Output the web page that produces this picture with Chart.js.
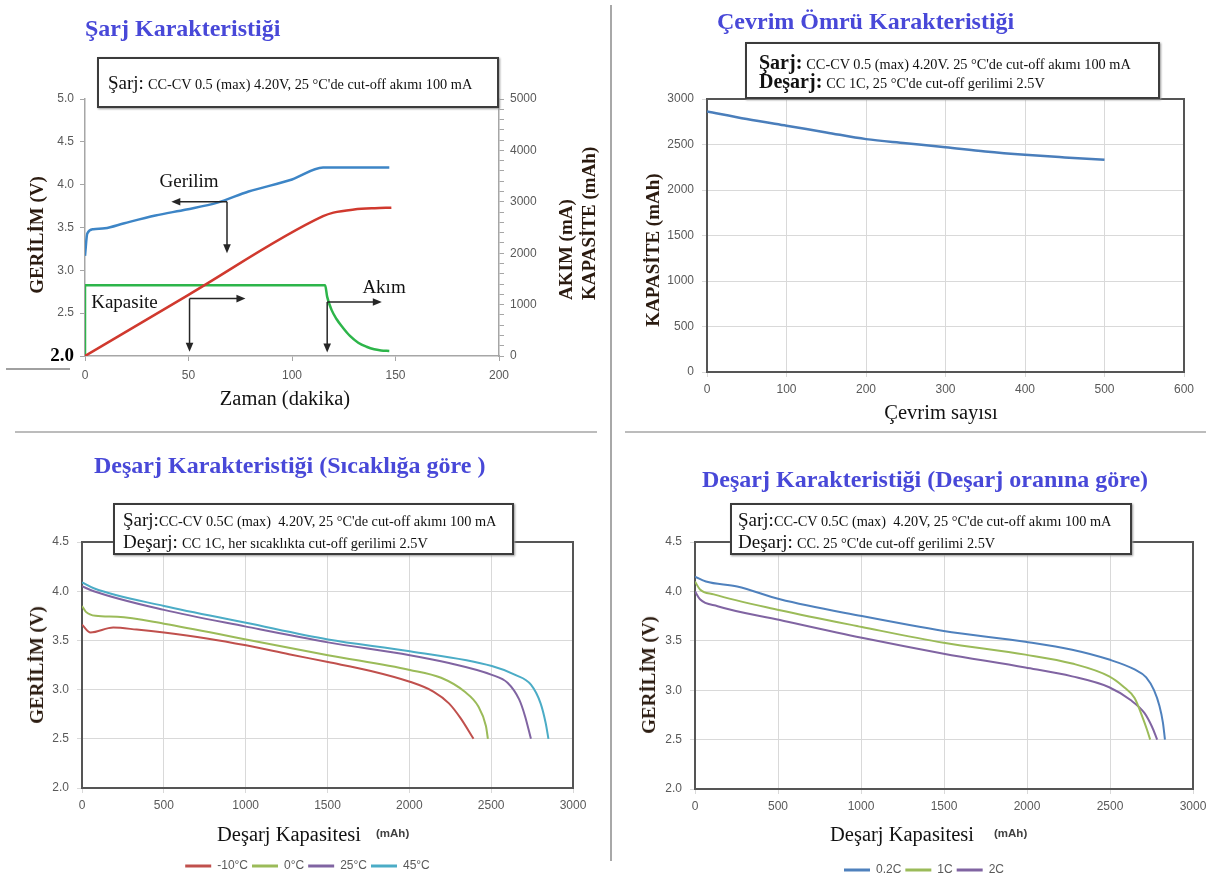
<!DOCTYPE html>
<html>
<head>
<meta charset="utf-8">
<script src="https://cdn.jsdelivr.net/npm/chart.js@4.4.1/dist/chart.umd.min.js"></script>
<style>
html, body { margin: 0; padding: 0; background: #fff; overflow: hidden; }
#page { position: relative; width: 1224px; height: 877px; overflow: hidden; font-family: "Liberation Serif", serif; }
canvas { position: absolute; }
.ttl { position: absolute; font: bold 24px/28px "Liberation Serif", serif; color: #4848d8; white-space: nowrap; }
.note { position: absolute; background: #fff; border: 2px solid #3c3c3c; box-shadow: 1px 1px 2px #999; box-sizing: border-box; }
.note div { position: absolute; white-space: nowrap; color: #111; line-height: 20px; }
.big { font-size: 19px; }
.bigb { font-size: 20px; font-weight: bold; }
.sm { font-size: 14.3px; }
.yt { position: absolute; font: bold 19px/22px "Liberation Serif", serif; color: #2b1b10; white-space: nowrap;
      transform: translate(-50%, -50%) rotate(-90deg); }
.rt { position: absolute; font: bold 19px/23px "Liberation Serif", serif; color: #2b1b10; white-space: nowrap;
      transform: rotate(-90deg); transform-origin: 0 0; }
.xt { position: absolute; font: 20.5px/22px "Liberation Serif", serif; color: #111; white-space: nowrap; transform: translate(-50%, -50%); }
.xl { position: absolute; font: 20.5px/22px "Liberation Serif", serif; color: #111; white-space: nowrap; }
.unit { position: absolute; font: bold 11.5px/14px "Liberation Sans", sans-serif; color: #404040; }
.sep { position: absolute; background: #bcbcbc; }
</style>
</head>
<body>
<div id="page">
  <canvas id="c1" width="611" height="430" style="left:0;top:0"></canvas>
  <canvas id="c2" width="612" height="430" style="left:612px;top:0"></canvas>
  <canvas id="c3" width="611" height="447" style="left:0;top:440px"></canvas>
  <canvas id="c4" width="612" height="447" style="left:612px;top:440px"></canvas>

  <div class="sep" style="left:610px;top:5px;width:1.5px;height:856px;background:#a8a8a8"></div>
  <div class="sep" style="left:15px;top:431px;width:582px;height:2px"></div>
  <div class="sep" style="left:625px;top:431px;width:581px;height:2px"></div>
  <div class="sep" style="left:6px;top:368px;width:64px;height:2px;background:#a0a0a0"></div>

  <div class="ttl" style="left:85px;top:14px">Şarj Karakteristiği</div>
  <div class="ttl" style="left:717px;top:7px">Çevrim Ömrü Karakteristiği</div>
  <div class="ttl" style="left:94px;top:451px">Deşarj Karakteristiği (Sıcaklığa göre )</div>
  <div class="ttl" style="left:702px;top:465px">Deşarj Karakteristiği (Deşarj oranına göre)</div>

  <div class="note" style="left:97px;top:57px;width:402px;height:51px">
    <div style="left:9px;top:14px"><span class="big">Şarj:</span> <span class="sm">CC-CV 0.5 (max) 4.20V, 25 °C'de cut-off akımı 100 mA</span></div>
  </div>
  <div class="note" style="left:745px;top:42px;width:415px;height:57px">
    <div style="left:12px;top:8px"><span class="bigb">Şarj:</span> <span class="sm">CC-CV 0.5 (max) 4.20V. 25 °C'de cut-off akımı 100 mA</span></div>
    <div style="left:12px;top:27px"><span class="bigb">Deşarj:</span> <span class="sm">CC 1C, 25 °C'de cut-off gerilimi 2.5V</span></div>
  </div>
  <div class="note" style="left:113px;top:503px;width:401px;height:52px">
    <div style="left:8px;top:5px"><span class="big">Şarj:</span><span class="sm">CC-CV 0.5C (max)&nbsp; 4.20V, 25 °C'de cut-off akımı 100 mA</span></div>
    <div style="left:8px;top:27px"><span class="big">Deşarj:</span> <span class="sm">CC 1C, her sıcaklıkta cut-off gerilimi 2.5V</span></div>
  </div>
  <div class="note" style="left:730px;top:503px;width:402px;height:52px">
    <div style="left:6px;top:5px"><span class="big">Şarj:</span><span class="sm">CC-CV 0.5C (max)&nbsp; 4.20V, 25 °C'de cut-off akımı 100 mA</span></div>
    <div style="left:6px;top:27px"><span class="big">Deşarj:</span> <span class="sm">CC. 25 °C'de cut-off gerilimi 2.5V</span></div>
  </div>

  <div class="yt" style="left:37px;top:235px">GERİLİM (V)</div>
  <div class="rt" style="left:554px;top:300px">AKIM (mA)<br>KAPASİTE (mAh)</div>
  <div class="yt" style="left:653px;top:250px">KAPASİTE (mAh)</div>
  <div class="yt" style="left:37px;top:665px">GERİLİM (V)</div>
  <div class="yt" style="left:649px;top:675px">GERİLİM (V)</div>

  <div class="xt" style="left:285px;top:398px">Zaman (dakika)</div>
  <div class="xt" style="left:941px;top:412px">Çevrim sayısı</div>
  <div class="xl" style="left:217px;top:823px">Deşarj Kapasitesi</div>
  <div class="unit" style="left:376px;top:826px">(mAh)</div>
  <div class="xl" style="left:830px;top:823px">Deşarj Kapasitesi</div>
  <div class="unit" style="left:994px;top:826px">(mAh)</div>
</div>

<script>
// Şarj karakteristiği: zaman (dakika)
const chgVoltT = [0, 1.1, 4, 9.6, 19, 34, 49, 64, 79, 100, 115, 147];
const chgVolt  = [3.17, 3.43, 3.48, 3.49, 3.55, 3.64, 3.71, 3.79, 3.92, 4.06, 4.2, 4.2];
const chgCapT  = [0, 50, 115, 120, 130, 140, 148];
const chgCap   = [0, 1190, 2720, 2790, 2850, 2875, 2885];
const chgCurT  = [0, 0, 116, 117, 119, 121.5, 124.6, 128, 132, 136, 139.7, 143, 147];
const chgCur   = [0, 1375, 1375, 1150, 907, 720, 550, 390, 259, 180, 130, 108, 97];

// Çevrim ömrü
const cycleN   = [0, 50, 100, 150, 200, 250, 300, 350, 400, 450, 500];
const cycleCap = [2864, 2780, 2706, 2633, 2559, 2515, 2471, 2424, 2387, 2358, 2332];

// Deşarj - sıcaklığa göre
const tempLabels = ['-10°C', '0°C', '25°C', '45°C'];
const tempColors = ['#C0504D', '#9BBB59', '#8064A2', '#4BACC6'];
const capM10 = [0, 52, 191, 334, 501, 763, 1002, 1264, 1503, 1765, 2003, 2147, 2242, 2313, 2392];
const vM10   = [3.66, 3.58, 3.63, 3.61, 3.58, 3.52, 3.45, 3.36, 3.28, 3.19, 3.08, 2.98, 2.86, 2.71, 2.5];
const cap0   = [0, 24, 83, 215, 501, 1002, 1503, 2003, 2194, 2337, 2421, 2468, 2480];
const v0     = [3.85, 3.79, 3.75, 3.74, 3.67, 3.51, 3.35, 3.20, 3.12, 2.98, 2.83, 2.63, 2.5];
const cap25  = [0, 72, 501, 1002, 1503, 2003, 2242, 2504, 2600, 2671, 2707, 2743];
const v25    = [4.05, 4.0, 3.81, 3.64, 3.48, 3.35, 3.27, 3.15, 3.07, 2.90, 2.73, 2.5];
const cap45  = [0, 72, 501, 1002, 1503, 2003, 2504, 2647, 2743, 2802, 2833, 2850];
const v45    = [4.09, 4.03, 3.85, 3.68, 3.51, 3.39, 3.24, 3.15, 3.05, 2.86, 2.66, 2.5];

// Deşarj - deşarj oranına göre
const rateLabels = ['0.2C', '1C', '2C'];
const rateColors = ['#4F81BD', '#9BBB59', '#8064A2'];
const cap02 = [0, 66, 254, 512, 1005, 1498, 1990, 2272, 2495, 2648, 2718, 2765, 2798, 2819, 2831];
const v02   = [4.15, 4.10, 4.05, 3.92, 3.75, 3.60, 3.49, 3.41, 3.31, 3.21, 3.13, 3.0, 2.84, 2.67, 2.5];
const cap1C = [0, 30, 113, 512, 1005, 1498, 1990, 2272, 2495, 2578, 2648, 2695, 2723, 2742];
const v1C   = [4.10, 4.02, 3.97, 3.81, 3.64, 3.48, 3.36, 3.27, 3.14, 3.04, 2.92, 2.73, 2.60, 2.5];
const cap2C = [0, 30, 136, 512, 1005, 1498, 1990, 2272, 2495, 2624, 2707, 2753, 2784];
const v2C   = [4.0, 3.92, 3.85, 3.71, 3.53, 3.37, 3.23, 3.14, 3.03, 2.90, 2.77, 2.63, 2.5];

// arrows and labels on the charge chart, in data units (x: dakika, y: V)
const chargeArrows = [
  [68.6, 3.8, 41.7, 3.8], [68.6, 3.8, 68.6, 3.2],
  [50.5, 2.67, 77.5, 2.67], [50.5, 2.67, 50.5, 2.05],
  [117, 2.63, 143.4, 2.63], [117, 2.63, 117, 2.04]
];
const chargeNotes = [['Gerilim', 36, 4.03], ['Kapasite', 3, 2.62], ['Akım', 134, 2.79]];

const tickColor = '#595959';
const tickFont = {family: 'Liberation Sans', size: 12};
const gridColor = '#d9d9d9';

function pts(xs, ys) { return xs.map((x, i) => ({x: x, y: ys[i]})); }
function fixW(w) { return s => { s.width = w; }; }
function fixH(h) { return s => { s.height = h; }; }

const frame = {
  id: 'frame',
  beforeDatasetsDraw(chart, args, opts) {
    if (!opts.color) return;
    const a = chart.chartArea, ctx = chart.ctx;
    ctx.save();
    ctx.strokeStyle = opts.color;
    ctx.lineWidth = opts.width;
    ctx.strokeRect(a.left, a.top, a.right - a.left, a.bottom - a.top);
    ctx.restore();
  }
};

function drawArrow(ctx, x1, y1, x2, y2) {
  const a = Math.atan2(y2 - y1, x2 - x1), h = 9, w = 3.8;
  ctx.beginPath();
  ctx.moveTo(x1, y1);
  ctx.lineTo(x2 - Math.cos(a) * h * 0.7, y2 - Math.sin(a) * h * 0.7);
  ctx.stroke();
  ctx.beginPath();
  ctx.moveTo(x2, y2);
  ctx.lineTo(x2 - h * Math.cos(a) + w * Math.sin(a), y2 - h * Math.sin(a) - w * Math.cos(a));
  ctx.lineTo(x2 - h * Math.cos(a) - w * Math.sin(a), y2 - h * Math.sin(a) + w * Math.cos(a));
  ctx.closePath();
  ctx.fill();
}

const arrows = {
  id: 'arrows',
  afterDatasetsDraw(chart) {
    const ctx = chart.ctx, sx = chart.scales.x, sy = chart.scales.y;
    ctx.save();
    ctx.strokeStyle = '#262626';
    ctx.fillStyle = '#262626';
    ctx.lineWidth = 1.5;
    chargeArrows.forEach(r => drawArrow(ctx, sx.getPixelForValue(r[0]), sy.getPixelForValue(r[1]),
                                            sx.getPixelForValue(r[2]), sy.getPixelForValue(r[3])));
    ctx.fillStyle = '#111';
    ctx.font = '19px "Liberation Serif"';
    ctx.textBaseline = 'middle';
    chargeNotes.forEach(n => ctx.fillText(n[0], sx.getPixelForValue(n[1]), sy.getPixelForValue(n[2])));
    ctx.restore();
  }
};

function line(label, xs, ys, color, axis, width) {
  return {
    label: label, data: pts(xs, ys), yAxisID: axis || 'y',
    borderColor: color, backgroundColor: color, borderWidth: width || 2,
    pointRadius: 0, cubicInterpolationMode: 'monotone', fill: false
  };
}

// 1) Şarj karakteristiği
new Chart(document.getElementById('c1'), {
  type: 'line',
  data: {
    datasets: [
      line('Gerilim', chgVoltT, chgVolt, '#3D85C6', 'y', 2.5),
      line('Kapasite', chgCapT, chgCap, '#D0392E', 'y2', 2.5),
      line('Akım', chgCurT, chgCur, '#2DB54A', 'y2', 2.5)
    ]
  },
  options: {
    responsive: false,
    animation: false,
    layout: {padding: {left: 45, top: 99, right: 62, bottom: 44}},
    plugins: {legend: {display: false}, tooltip: {enabled: false}},
    scales: {
      x: {
        type: 'linear', min: 0, max: 200,
        ticks: {stepSize: 50, color: tickColor, font: tickFont, padding: 7, maxRotation: 0},
        grid: {drawOnChartArea: false, tickLength: 5, color: '#a6a6a6'},
        border: {color: '#a6a6a6', width: 1.5},
        afterFit: fixH(30)
      },
      y: {
        position: 'left', min: 2, max: 5,
        ticks: {
          stepSize: 0.5, padding: 6,
          callback: v => v.toFixed(1),
          color: c => (c.tick && c.tick.value === 2) ? '#000' : tickColor,
          font: c => (c.tick && c.tick.value === 2) ? {family: 'Liberation Serif', size: 19, weight: 'bold'} : tickFont
        },
        grid: {drawOnChartArea: false, tickLength: 5, color: '#a6a6a6'},
        border: {color: '#a6a6a6', width: 1.5},
        afterFit: fixW(40)
      },
      y2: {
        position: 'right', min: 0, max: 5000,
        ticks: {stepSize: 200, autoSkip: false, padding: 6, color: tickColor, font: tickFont,
                callback: v => v % 1000 === 0 ? String(v) : ''},
        grid: {drawOnChartArea: false, tickLength: 5, color: '#a6a6a6'},
        border: {color: '#a6a6a6', width: 1.5},
        afterFit: fixW(50)
      }
    }
  },
  plugins: [arrows]
});

function boxedScales(xMax, xStep, yMin, yMax, yStep, fmt, xH) {
  return {
    x: {
      type: 'linear', min: 0, max: xMax,
      ticks: {stepSize: xStep, color: tickColor, font: tickFont, padding: 5, maxRotation: 0, callback: v => String(v)},
      grid: {color: gridColor, tickLength: 5},
      border: {display: false},
      afterFit: fixH(xH)
    },
    y: {
      min: yMin, max: yMax,
      ticks: {stepSize: yStep, color: tickColor, font: tickFont, padding: 8, callback: fmt},
      grid: {color: gridColor, tickLength: 5},
      border: {display: false},
      afterFit: fixW(40)
    }
  };
}

// 2) Çevrim ömrü
new Chart(document.getElementById('c2'), {
  type: 'line',
  data: {datasets: [line('Kapasite', cycleN, cycleCap, '#4A7EBB', 'y', 2.5)]},
  options: {
    responsive: false,
    animation: false,
    layout: {padding: {left: 55, top: 99, right: 40, bottom: 28}},
    plugins: {legend: {display: false}, tooltip: {enabled: false}, frame: {color: '#555', width: 2}},
    scales: boxedScales(600, 100, 0, 3000, 500, v => String(v), 30)
  },
  plugins: [frame]
});

const legendOpts = {
  position: 'bottom',
  labels: {
    boxWidth: 26, boxHeight: 3, padding: 4, color: tickColor, font: tickFont,
    generateLabels: c => Chart.defaults.plugins.legend.labels.generateLabels(c).map(l => Object.assign(l, {lineWidth: 0}))
  }
};

// 3) Deşarj - sıcaklık
new Chart(document.getElementById('c3'), {
  type: 'line',
  data: {
    datasets: [
      line(tempLabels[0], capM10, vM10, tempColors[0]),
      line(tempLabels[1], cap0, v0, tempColors[1]),
      line(tempLabels[2], cap25, v25, tempColors[2]),
      line(tempLabels[3], cap45, v45, tempColors[3])
    ]
  },
  options: {
    responsive: false,
    animation: false,
    layout: {padding: {left: 42, top: 102, right: 38, bottom: 5}},
    plugins: {legend: legendOpts, tooltip: {enabled: false}, frame: {color: '#555', width: 2}},
    scales: boxedScales(3000, 500, 2, 4.5, 0.5, v => v.toFixed(1), 68)
  },
  plugins: [frame]
});

// 4) Deşarj - deşarj oranı
new Chart(document.getElementById('c4'), {
  type: 'line',
  data: {
    datasets: [
      line(rateLabels[0], cap02, v02, rateColors[0]),
      line(rateLabels[1], cap1C, v1C, rateColors[1]),
      line(rateLabels[2], cap2C, v2C, rateColors[2])
    ]
  },
  options: {
    responsive: false,
    animation: false,
    layout: {padding: {left: 43, top: 102, right: 31, bottom: 1}},
    plugins: {legend: legendOpts, tooltip: {enabled: false}, frame: {color: '#555', width: 2}},
    scales: boxedScales(3000, 500, 2, 4.5, 0.5, v => v.toFixed(1), 71)
  },
  plugins: [frame]
});
</script>
</body>
</html>
